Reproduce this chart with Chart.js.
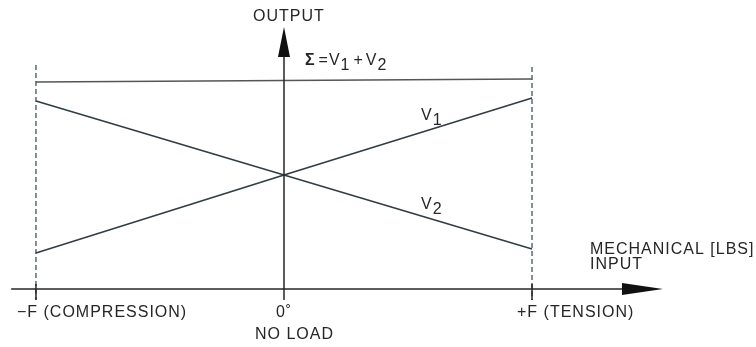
<!DOCTYPE html>
<html>
<head>
<meta charset="utf-8">
<script src="https://cdn.jsdelivr.net/npm/chart.js@4.4.1/dist/chart.umd.min.js"></script>
<style>
  html, body { margin: 0; padding: 0; background: #fff; }
  #wrap { width: 756px; height: 347px; }
</style>
</head>
<body>
<div id="wrap"><canvas id="chart"></canvas></div>
<script>
// load positions: -F, 0, +F (in units of F)
const loadPositions = [-1, 0, 1];
const tickLabels = ["\u2212F (COMPRESSION)", "0\u02DA", "+F (TENSION)"];
const subLabels = ["", "NO LOAD", ""];

// output levels (arbitrary units)
const v1Values = [0.36, 1.14, 1.91];
const v2Values = [1.88, 1.14, 0.40];
const sumValues = [2.07, 2.085, 2.10];

// dashed limit lines at -F and +F
const limitTop = [2.24, 2.22];
const limitBottom = -0.11;

const yAxisTitle = "OUTPUT";
const xAxisTitle = ["MECHANICAL [LBS]", "INPUT"];

function pts(values) {
  return loadPositions.map((x, i) => ({ x: x, y: values[i] }));
}

const ink = "#262626";
const FONT = "16px 'Liberation Sans', Arial, sans-serif";

function text(ctx, str, x, y, align) {
  ctx.textAlign = align || "left";
  ctx.fillText(str, x, y);
}

// V with a subscript digit
function subText(ctx, base, sub, x, y) {
  ctx.textAlign = "left";
  ctx.font = FONT;
  ctx.fillText(base, x, y);
  const w = ctx.measureText(base).width;
  ctx.fillText(sub, x + w, y + 5);
  return w + ctx.measureText(sub).width;
}

const diagramPlugin = {
  id: "diagram",
  afterDatasetsDraw(chart) {
    const ctx = chart.ctx;
    const xs = chart.scales.x;
    const ys = chart.scales.y;
    const px = (v) => xs.getPixelForValue(v);
    const py = (v) => ys.getPixelForValue(v);

    ctx.save();
    ctx.strokeStyle = ink;
    ctx.fillStyle = "#111";
    ctx.lineWidth = 1.5;

    // horizontal (input) axis with arrow
    const y0 = py(0);
    const xStart = px(-1.10);
    const xTip = px(1.528);
    ctx.beginPath();
    ctx.moveTo(xStart, y0);
    ctx.lineTo(xTip - 30, y0);
    ctx.stroke();
    ctx.beginPath();
    ctx.moveTo(xTip, y0);
    ctx.lineTo(xTip - 41, y0 - 6);
    ctx.lineTo(xTip - 41, y0 + 6);
    ctx.closePath();
    ctx.fill();

    // vertical (output) axis with arrow
    const x0 = px(0);
    const yTip = py(2.62);
    ctx.beginPath();
    ctx.moveTo(x0, py(limitBottom));
    ctx.lineTo(x0, yTip + 20);
    ctx.stroke();
    ctx.beginPath();
    ctx.moveTo(x0, yTip);
    ctx.lineTo(x0 - 6, yTip + 30);
    ctx.lineTo(x0 + 6, yTip + 30);
    ctx.closePath();
    ctx.fill();

    // solid ticks below axis at -F and +F
    [-1, 1].forEach((v) => {
      ctx.beginPath();
      ctx.moveTo(px(v), y0 - 5);
      ctx.lineTo(px(v), py(limitBottom));
      ctx.stroke();
    });

    // labels
    ctx.fillStyle = ink;
    ctx.font = FONT;
    ctx.textBaseline = "middle";
    ctx.letterSpacing = "1px";

    const labelY = py(0) + 24;
    text(ctx, tickLabels[0], px(-1) - 19, labelY, "left");
    text(ctx, tickLabels[1], px(0), labelY, "center");
    text(ctx, tickLabels[2], px(1) - 15, labelY, "left");
    text(ctx, subLabels[1], px(0) - 29, labelY + 22, "left");

    text(ctx, xAxisTitle[0], 590, py(0) - 39, "left");
    text(ctx, xAxisTitle[1], 590, py(0) - 24, "left");
    text(ctx, yAxisTitle, px(0) - 31, 17, "left");

    // series labels
    subText(ctx, "V", "1", 421, 116);
    subText(ctx, "V", "2", 421, 205);

    // sum label: Σ =V1 + V2
    let sx = px(0) + 21;
    const sy = 61;
    ctx.font = "bold 16px 'Liberation Sans', Arial, sans-serif";
    ctx.textAlign = "left";
    ctx.fillText("\u03A3", sx, sy);
    sx += ctx.measureText("\u03A3").width + 3;
    ctx.font = FONT;
    ctx.fillText("=", sx, sy);
    sx += ctx.measureText("=").width;
    sx += subText(ctx, "V", "1", sx, sy) + 3;
    ctx.fillText("+", sx, sy);
    sx += ctx.measureText("+").width + 2;
    subText(ctx, "V", "2", sx, sy);

    ctx.restore();
  },
};

const lineStyle = {
  borderWidth: 1.6,
  pointRadius: 0,
  fill: false,
  tension: 0,
};

new Chart(document.getElementById("chart"), {
  type: "line",
  data: {
    datasets: [
      { label: "V1", data: pts(v1Values), borderColor: "#2f3d44", ...lineStyle },
      { label: "V2", data: pts(v2Values), borderColor: "#2f3d44", ...lineStyle },
      { label: "Sum", data: pts(sumValues), borderColor: "#555", ...lineStyle, borderWidth: 1.3 },
      {
        label: "-F limit",
        data: [{ x: -1, y: limitTop[0] }, { x: -1, y: limitBottom }],
        borderColor: "#3d5561",
        borderDash: [5, 3],
        ...lineStyle,
        borderWidth: 1.3,
      },
      {
        label: "+F limit",
        data: [{ x: 1, y: limitTop[1] }, { x: 1, y: limitBottom }],
        borderColor: "#3d5561",
        borderDash: [5, 3],
        ...lineStyle,
        borderWidth: 1.3,
      },
    ],
  },
  options: {
    responsive: true,
    maintainAspectRatio: false,
    animation: false,
    layout: { padding: 0 },
    plugins: {
      legend: { display: false },
      tooltip: { enabled: false },
    },
    scales: {
      x: { type: "linear", min: -1.145, max: 1.903, display: false },
      y: { type: "linear", min: -0.58, max: 2.89, display: false },
    },
  },
  plugins: [diagramPlugin],
});
</script>
</body>
</html>
